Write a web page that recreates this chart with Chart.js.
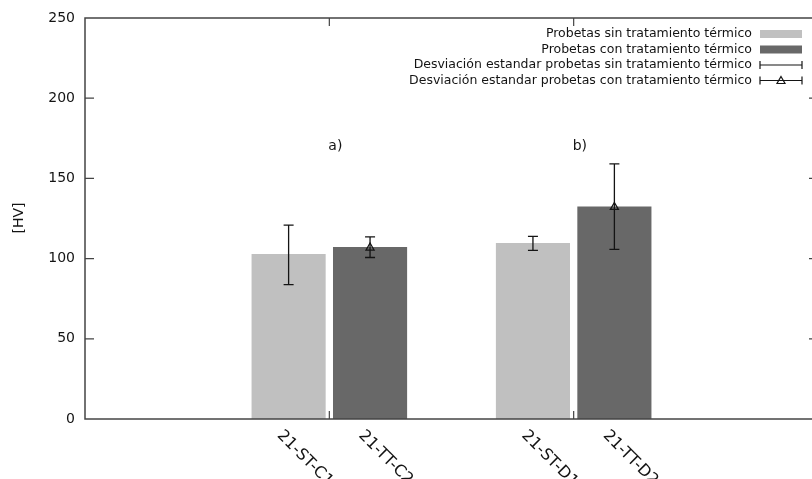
<!DOCTYPE html>
<html>
<head>
<meta charset="utf-8">
<script src="https://cdn.jsdelivr.net/npm/chart.js@4.4.0/dist/chart.umd.min.js"></script>
<style>
  html, body { margin: 0; padding: 0; background: #fff; overflow: hidden; }
</style>
</head>
<body>
<canvas id="hardness" width="820" height="479"></canvas>
<script>
// Vickers hardness of the specimens, with and without heat treatment
const specimens = ['21-ST-C1', '21-TT-C2', '21-ST-D1', '21-TT-D2'];
const untreated = [102.8, null, 109.7, null];
const treated = [null, 107.2, null, 132.5];
const errLow = [83.8, 100.7, 105.1, 105.7];
const errHigh = [120.9, 113.6, 113.8, 159.0];
const groupNotes = ['a)', 'b)'];
const noteLevel = 170;
const seriesNames = [
    'Probetas sin tratamiento térmico',
    'Probetas con tratamiento térmico',
    'Desviación estandar probetas sin tratamiento térmico',
    'Desviación estandar probetas con tratamiento térmico'
];

const LIGHT = '#c0c0c0';
const DARK = '#686868';
const INK = '#141414';
const FRAME = '#444444';
const FONT = '"DejaVu Sans", Verdana, sans-serif';

// two empty slots each side, one empty slot between the pairs
const slots = ['', ''];
const slotOf = [];
for (let i = 0; i < specimens.length; i += 2) {
    slotOf.push(slots.length, slots.length + 1);
    slots.push(specimens[i], specimens[i + 1], '');
}
slots.push('');

function toSlots(values) {
    const out = slots.map(() => null);
    values.forEach((v, i) => { out[slotOf[i]] = v; });
    return out;
}

function triangle(ctx, x, y) {
    ctx.beginPath();
    ctx.moveTo(x, y - 4);
    ctx.lineTo(x + 4, y + 3);
    ctx.lineTo(x - 4, y + 3);
    ctx.closePath();
    ctx.stroke();
}

// gnuplot-like frame, inward ticks, error bars, labels and key
const decorations = {
    id: 'decorations',
    afterDatasetsDraw(chart) {
        const ctx = chart.ctx;
        const area = chart.chartArea;
        const xs = chart.scales.x;
        const ys = chart.scales.y;
        ctx.save();

        // frame
        ctx.strokeStyle = FRAME;
        ctx.lineWidth = 1.5;
        ctx.strokeRect(area.left, area.top, area.right - area.left, area.bottom - area.top);

        // y ticks on both sides
        ctx.lineWidth = 1.2;
        ys.ticks.forEach(t => {
            if (t.value <= ys.min || t.value >= ys.max) return;
            const y = ys.getPixelForValue(t.value);
            ctx.beginPath();
            ctx.moveTo(area.left, y); ctx.lineTo(area.left + 9, y);
            ctx.moveTo(area.right, y); ctx.lineTo(area.right - 9, y);
            ctx.stroke();
        });

        // x ticks in the middle of each pair, top and bottom
        for (let g = 0; g < specimens.length / 2; g++) {
            const x = (xs.getPixelForValue(slotOf[2 * g]) + xs.getPixelForValue(slotOf[2 * g + 1])) / 2;
            ctx.beginPath();
            ctx.moveTo(x, area.bottom); ctx.lineTo(x, area.bottom - 8);
            ctx.moveTo(x, area.top); ctx.lineTo(x, area.top + 8);
            ctx.stroke();

            ctx.fillStyle = INK;
            ctx.font = '14px ' + FONT;
            ctx.textAlign = 'left';
            ctx.textBaseline = 'middle';
            ctx.fillText(groupNotes[g], x - 1, ys.getPixelForValue(noteLevel));
        }

        // error bars
        ctx.strokeStyle = INK;
        ctx.lineWidth = 1.3;
        specimens.forEach((s, i) => {
            const x = xs.getPixelForValue(slotOf[i]);
            const lo = ys.getPixelForValue(errLow[i]);
            const hi = ys.getPixelForValue(errHigh[i]);
            ctx.beginPath();
            ctx.moveTo(x, lo); ctx.lineTo(x, hi);
            ctx.moveTo(x - 5, lo); ctx.lineTo(x + 5, lo);
            ctx.moveTo(x - 5, hi); ctx.lineTo(x + 5, hi);
            ctx.stroke();
            if (treated[i] != null) triangle(ctx, x, ys.getPixelForValue(treated[i]));
        });

        // rotated specimen names
        ctx.fillStyle = INK;
        ctx.font = '16px ' + FONT;
        ctx.textAlign = 'left';
        ctx.textBaseline = 'alphabetic';
        specimens.forEach((s, i) => {
            const x = xs.getPixelForValue(slotOf[i]);
            ctx.save();
            ctx.translate(x - 12, area.bottom + 17);
            ctx.rotate(Math.PI / 4);
            ctx.fillText(s, 0, 0);
            ctx.restore();
        });

        // y title
        ctx.save();
        ctx.font = '14px ' + FONT;
        ctx.translate(19, 218);
        ctx.rotate(-Math.PI / 2);
        ctx.textAlign = 'center';
        ctx.textBaseline = 'middle';
        ctx.fillText('[HV]', 0, 0);
        ctx.restore();

        // key
        const rows = [34, 49.5, 65, 80.5];
        const textRight = 752, sx0 = 760, sx1 = 802;
        ctx.font = '12.5px ' + FONT;
        ctx.textAlign = 'right';
        ctx.textBaseline = 'middle';
        seriesNames.forEach((name, r) => {
            const y = rows[r];
            ctx.fillStyle = INK;
            ctx.fillText(name, textRight, y);
            if (r < 2) {
                ctx.fillStyle = r === 0 ? LIGHT : DARK;
                ctx.fillRect(sx0, y - 4, sx1 - sx0, 8);
            } else {
                ctx.strokeStyle = INK;
                ctx.lineWidth = 1.2;
                ctx.beginPath();
                ctx.moveTo(sx0, y); ctx.lineTo(sx1, y);
                ctx.moveTo(sx0, y - 4); ctx.lineTo(sx0, y + 4);
                ctx.moveTo(sx1, y - 4); ctx.lineTo(sx1, y + 4);
                ctx.stroke();
                if (r === 3) triangle(ctx, (sx0 + sx1) / 2, y);
            }
        });

        ctx.restore();
    }
};

new Chart(document.getElementById('hardness'), {
    type: 'bar',
    data: {
        labels: slots,
        datasets: [
            { label: seriesNames[0], data: toSlots(untreated), backgroundColor: LIGHT },
            { label: seriesNames[1], data: toSlots(treated), backgroundColor: DARK }
        ]
    },
    options: {
        responsive: false,
        animation: false,
        layout: { padding: { top: 18, right: 2, left: 0, bottom: 0 } },
        datasets: { bar: { grouped: false, categoryPercentage: 1, barPercentage: 0.91 } },
        plugins: {
            legend: { display: false },
            tooltip: { enabled: false }
        },
        scales: {
            x: {
                offset: true,
                grid: { display: false },
                border: { display: false },
                ticks: { display: false },
                afterFit(scale) { scale.height = 60; }
            },
            y: {
                min: 0,
                max: 250,
                ticks: { stepSize: 50, padding: 2, color: INK, font: { family: FONT, size: 14 } },
                grid: { display: false },
                border: { display: false },
                afterFit(scale) { scale.width = 85; }
            }
        }
    },
    plugins: [decorations]
});
</script>
</body>
</html>
